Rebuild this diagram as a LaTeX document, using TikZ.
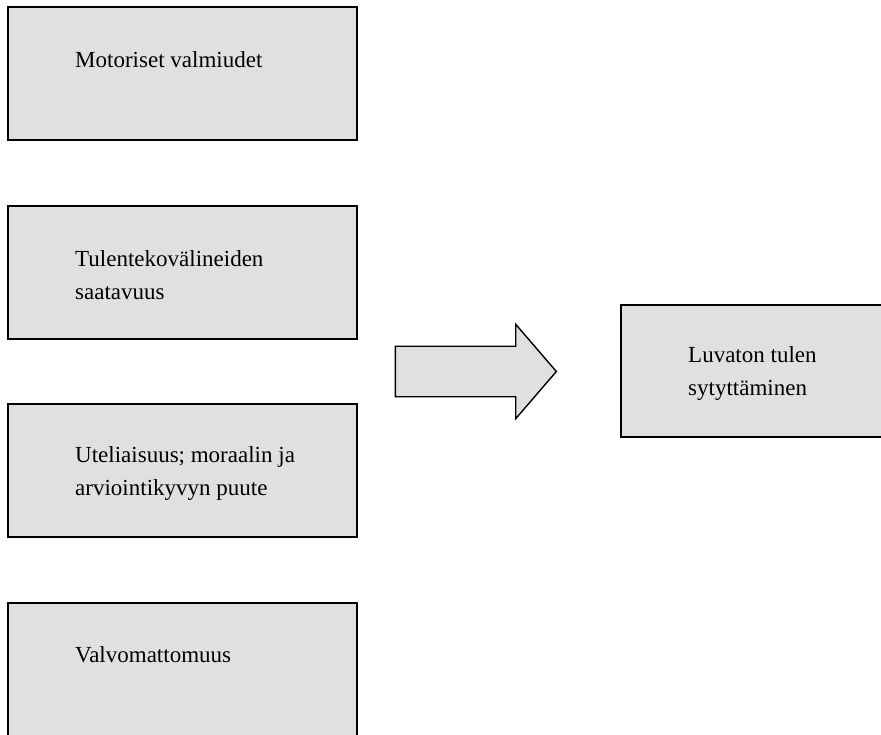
\documentclass[tikz,border=0pt]{standalone}
\usepackage{fontspec}
\setmainfont{Liberation Serif}
\usetikzlibrary{shapes.arrows}
\begin{document}
\begin{tikzpicture}
        [x=1pt, y=-1pt,
        box/.style={rectangle, draw, line width=1.4pt, fill=black!12, minimum width=349pt, minimum height=133pt, inner sep=0pt},
        txt/.style={anchor=west, align=left, inner sep=0pt, font=\fontsize{23}{33}\selectfont}]
        \useasboundingbox (0,0) rectangle (881,735);
        \node[box] (M) at (182.5,73.5) {};
        \node[box] (T) at (182.5,272.5) {};
        \node[box] (U) at (182.5,470.5) {};
        \node[box] (V) at (182.5,669.5) {};
        \node[box, minimum width=264pt, minimum height=132pt] (L) at (753,371) {};
        
        \node[txt] (Mt) at (75,60) {Motoriset valmiudet};
        \node[txt] (Tt) at (75,275) {Tulentekovälineiden\\saatavuus};
        \node[txt] (Ut) at (75,474) {Uteliaisuus; moraalin ja\\arviointikyvyn puute};
        \node[txt] (Vt) at (75,655) {Valvomattomuus};
        \node[txt] (Lt) at (688,374) {Luvaton tulen\\sytyttäminen};
        
        \node[single arrow, draw, line width=1.4pt, fill=black!12, inner xsep=0pt, inner ysep=24.5pt,
            minimum height=161pt, single arrow head extend=22pt, single arrow tip angle=98.6,
            single arrow head indent=0pt] (A) at (465,371.5) {};
    \end{tikzpicture}
\end{document}
